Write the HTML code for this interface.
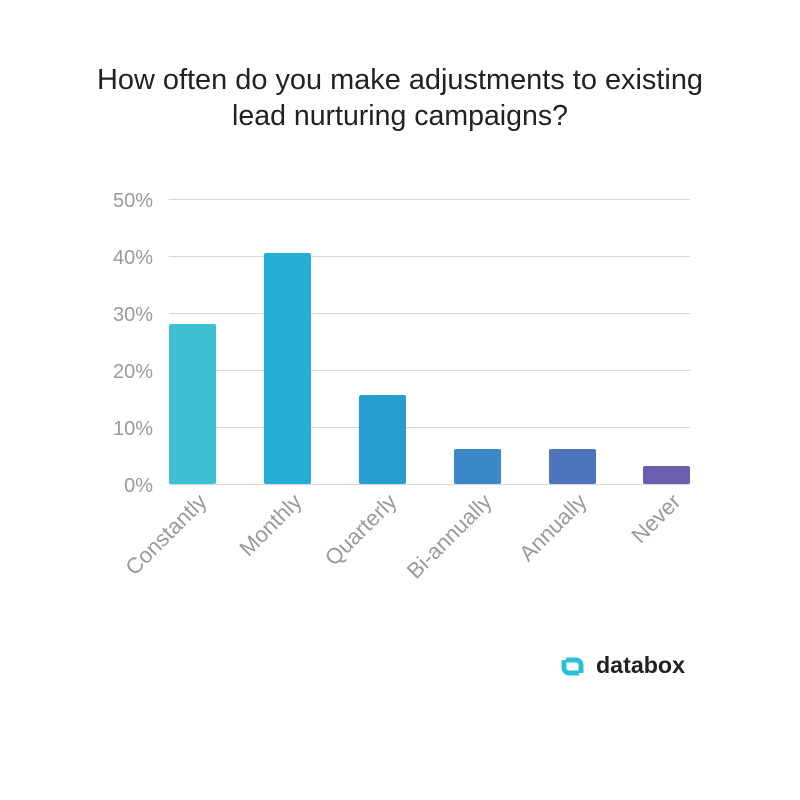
<!DOCTYPE html>
<html><head><meta charset="utf-8"><style>
html,body{margin:0;padding:0;background:#fff;}
</style></head><body>
<svg width="800" height="800" xmlns="http://www.w3.org/2000/svg" style="display:block">
<rect width="800" height="800" fill="#fff"/>
<g font-family="Liberation Sans, sans-serif" fill="#222" font-size="28.5" text-anchor="middle">
<text x="400" y="89" textLength="606" lengthAdjust="spacingAndGlyphs">How often do you make adjustments to existing</text>
<text x="400" y="125">lead nurturing campaigns?</text>
</g>
<g stroke="#d6d6d6" stroke-width="1">
<line x1="169" x2="690" y1="199.5" y2="199.5"/>
<line x1="169" x2="690" y1="256.5" y2="256.5"/>
<line x1="169" x2="690" y1="313.5" y2="313.5"/>
<line x1="169" x2="690" y1="370.5" y2="370.5"/>
<line x1="169" x2="690" y1="427.5" y2="427.5"/>
<line x1="169" x2="690" y1="484.5" y2="484.5"/>
</g>
<g font-family="Liberation Sans, sans-serif" fill="#9a9a9a" font-size="20" text-anchor="end">
<text x="153" y="207">50%</text>
<text x="153" y="264">40%</text>
<text x="153" y="321">30%</text>
<text x="153" y="378">20%</text>
<text x="153" y="435">10%</text>
<text x="153" y="492">0%</text>
</g>
<rect x="169" y="324" width="47" height="160" rx="2" fill="#3ec0d3"/>
<rect x="264" y="253" width="47" height="231" rx="2" fill="#24aed3"/>
<rect x="359" y="395" width="47" height="89" rx="2" fill="#259dd0"/>
<rect x="454" y="449" width="47" height="35" rx="2" fill="#3a88ca"/>
<rect x="549" y="449" width="47" height="35" rx="2" fill="#4d74bd"/>
<rect x="643" y="466" width="47" height="18" rx="2" fill="#6a5fae"/>
<g font-family="Liberation Sans, sans-serif" fill="#9a9a9a" font-size="22" text-anchor="end">
<text transform="translate(208,503) rotate(-45)">Constantly</text>
<text transform="translate(303,503) rotate(-45)">Monthly</text>
<text transform="translate(398,503) rotate(-45)">Quarterly</text>
<text transform="translate(493,503) rotate(-45)">Bi-annually</text>
<text transform="translate(588,503) rotate(-45)">Annually</text>
<text transform="translate(682,503) rotate(-45)">Never</text>
</g>
<g fill="none" stroke="#2cc0d8" stroke-width="5">
<path d="M566 660 h10 a5 5 0 0 1 5 5 v8 M579 673 h-10 a5 5 0 0 1 -5 -5 v-8"/>
</g>
<text x="596" y="673" font-family="Liberation Sans, sans-serif" font-weight="bold" font-size="23" fill="#222" textLength="89" lengthAdjust="spacingAndGlyphs">databox</text>
</svg>
</body></html>
